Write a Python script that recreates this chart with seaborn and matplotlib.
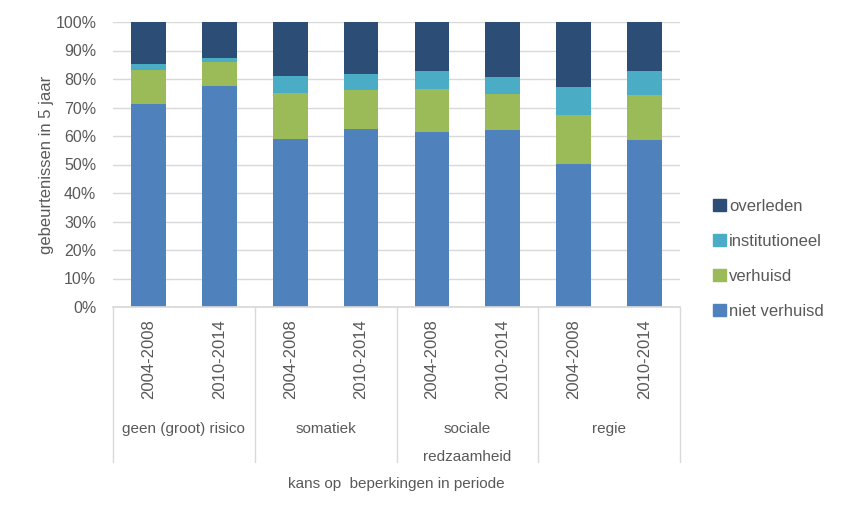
import matplotlib
matplotlib.use("Agg")
import matplotlib.pyplot as plt
import matplotlib.patches as mpatches
import matplotlib.transforms as mtrans
import seaborn as sns
import pandas as pd
import numpy as np

groups = ["geen (groot) risico", "somatiek", "sociale\nredzaamheid", "regie"]
periods = ["2004-2008", "2010-2014"]
series = ["niet verhuisd", "verhuisd", "institutioneel", "overleden"]
niet_verhuisd = [71.2, 77.5, 59.0, 62.5, 61.4, 62.1, 50.2, 58.6]
verhuisd = [12.0, 8.6, 16.1, 13.6, 15.1, 12.6, 17.2, 15.8]
institutioneel = [2.1, 1.2, 6.0, 5.7, 6.3, 6.1, 9.8, 8.4]
overleden = [14.7, 12.7, 18.9, 18.2, 17.2, 19.2, 22.8, 17.2]
colors = {"niet verhuisd": "#4F81BD", "verhuisd": "#9BBB59",
          "institutioneel": "#4BACC6", "overleden": "#2C4D75"}

sns.set_theme(style="white")
plt.rcParams['font.family'] = ['Liberation Sans', 'DejaVu Sans']
txt = "#595959"

labels = [f"{g}|{p}" for g in groups for p in periods]
vals = np.array([niet_verhuisd, verhuisd, institutioneel, overleden])
cum = np.cumsum(vals, axis=0)

fig = plt.figure(figsize=(8.5, 5.14), dpi=100)
ax = fig.add_axes([113/850, 1-307/514, (680-113)/850, (307-22)/514])

for i in range(3, -1, -1):
    df = pd.DataFrame({"x": labels, "y": cum[i]})
    sns.barplot(data=df, x="x", y="y", color=colors[series[i]], width=0.49,
                saturation=1, ax=ax, order=labels, linewidth=0)

ax.set_ylim(0, 100)
ax.set_xlim(-0.5, 7.5)
ax.set_yticks(np.arange(0, 101, 10))
ax.set_yticklabels([f"{v}%" for v in range(0, 101, 10)], fontsize=11.5, color=txt)
ax.yaxis.grid(True, color="#D9D9D9", linewidth=1)
ax.set_axisbelow(True)
for s in ["top", "right", "left"]:
    ax.spines[s].set_visible(False)
ax.spines["bottom"].set_color("#D9D9D9")
ax.tick_params(axis="y", length=0, pad=12)
ax.set_xticks([])
ax.set_xlabel("")
ax.set_ylabel("gebeurtenissen in 5 jaar", fontsize=12, color=txt, labelpad=1)

trans = mtrans.blended_transform_factory(ax.transData, ax.transAxes)
pxh = 285.0
for xs in [-0.5, 1.5, 3.5, 5.5, 7.5]:
    ax.plot([xs, xs], [0, -(462-307)/pxh], transform=trans, color="#D9D9D9",
            linewidth=1, clip_on=False)
for k, lab in enumerate(labels):
    ax.text(k, -(319-307)/pxh, lab.split("|")[1], transform=trans, rotation=90,
            ha="center", va="top", fontsize=12, color=txt)
for g, gname in enumerate(groups):
    ax.text(2*g+0.5, -(422-307)/pxh, gname, transform=trans, ha="center",
            va="top", fontsize=11, color=txt, linespacing=2.3)
ax.text(3.5, -(477-307)/pxh, "kans op  beperkingen in periode", transform=trans,
        ha="center", va="top", fontsize=11, color=txt)

handles = [mpatches.Patch(color=colors[s], label=s) for s in series[::-1]]
leg = fig.legend(handles=handles, loc="upper left", bbox_to_anchor=(698/850, 1-184/514),
                 frameon=False, fontsize=12, labelspacing=1.2, handlelength=0.75,
                 handleheight=0.75, handletextpad=0.2)
for t in leg.get_texts():
    t.set_color(txt)

fig.savefig("out.png", dpi=100)
